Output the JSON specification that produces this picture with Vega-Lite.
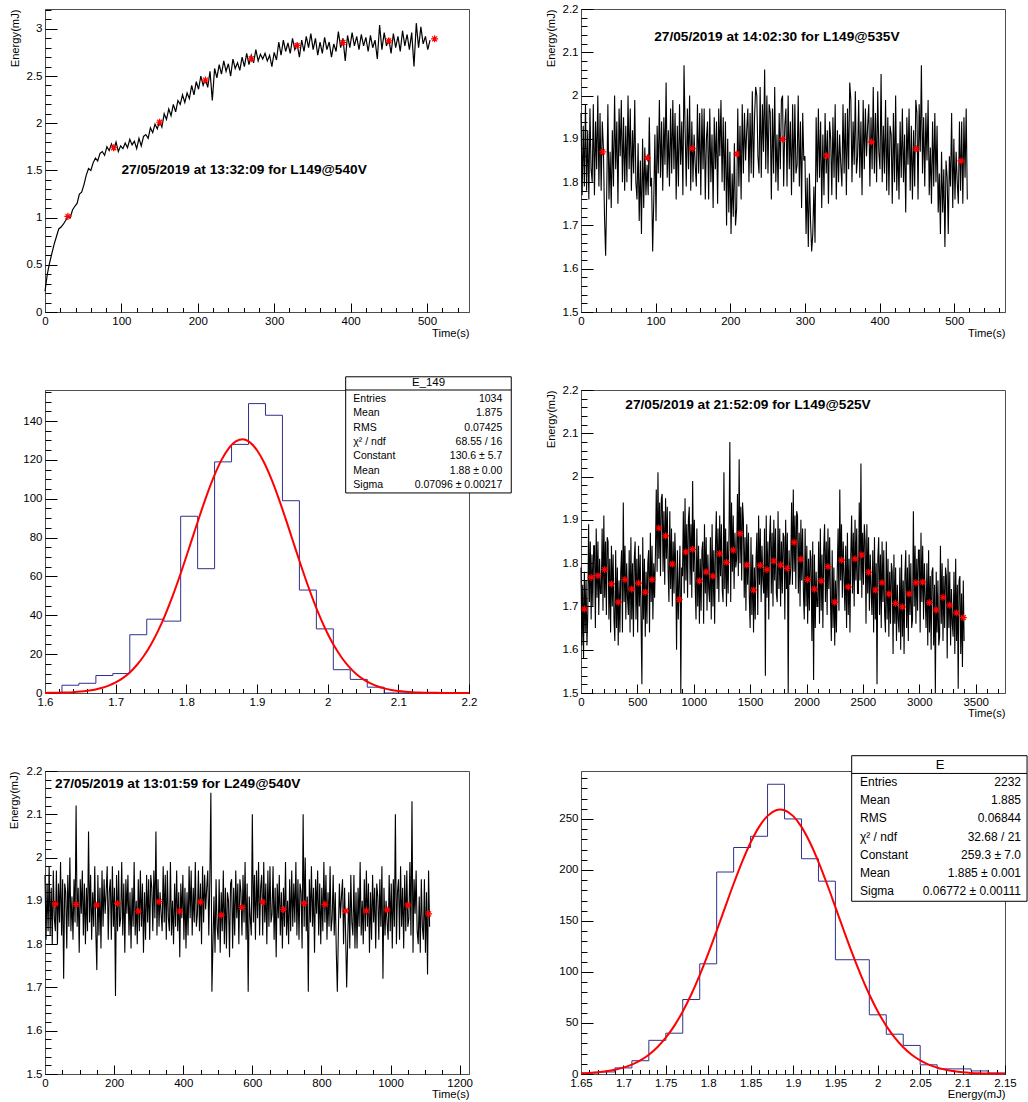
{
"$schema":"https://vega.github.io/schema/vega-lite/v6.json",
"background":"white",
"padding":{"left":7,"top":2,"right":0,"bottom":0},
"config":{
"view":{"stroke":"#4d4d4d","strokeWidth":1},
"font":"Liberation Sans",
"axis":{"labelFont":"Liberation Sans","labelFontSize":11.5,"labelColor":"#000","titleFont":"Liberation Sans","titleFontSize":11.2,"titleFontWeight":"normal","titleColor":"#000","domainColor":"#4d4d4d","domainWidth":1,"grid":false,"ticks":true,"tickColor":"#000","tickWidth":1,"labelFlush":false,"labelBound":false,"labelOverlap":false,"zindex":1,"labelExpr":"datum.value + ''"},
"text":{"font":"Liberation Sans"}
},
"datasets":{
"ts1":[{"t":0,"e":0.22},{"t":3,"e":0.4},{"t":6,"e":0.52},{"t":9,"e":0.62},{"t":12,"e":0.72},{"t":15,"e":0.8},{"t":18,"e":0.88},{"t":21,"e":0.9},{"t":24,"e":0.93},{"t":27,"e":0.97},{"t":30,"e":1.01},{"t":33,"e":1.0},{"t":36,"e":1.08},{"t":39,"e":1.12},{"t":42,"e":1.15},{"t":45,"e":1.25},{"t":48,"e":1.27},{"t":51,"e":1.35},{"t":54,"e":1.45},{"t":57,"e":1.52},{"t":60,"e":1.5},{"t":63,"e":1.58},{"t":66,"e":1.63},{"t":69,"e":1.6},{"t":72,"e":1.68},{"t":75,"e":1.7},{"t":78,"e":1.66},{"t":81,"e":1.75},{"t":84,"e":1.71},{"t":87,"e":1.78},{"t":90,"e":1.72},{"t":93,"e":1.8},{"t":96,"e":1.7},{"t":99,"e":1.76},{"t":102,"e":1.73},{"t":105,"e":1.79},{"t":108,"e":1.74},{"t":111,"e":1.83},{"t":114,"e":1.77},{"t":117,"e":1.81},{"t":120,"e":1.73},{"t":123,"e":1.84},{"t":126,"e":1.76},{"t":129,"e":1.86},{"t":132,"e":1.88},{"t":135,"e":1.84},{"t":138,"e":1.95},{"t":141,"e":1.9},{"t":144,"e":1.99},{"t":147,"e":1.94},{"t":150,"e":2.02},{"t":153,"e":1.96},{"t":156,"e":2.1},{"t":159,"e":2.04},{"t":162,"e":2.15},{"t":165,"e":2.08},{"t":168,"e":2.2},{"t":171,"e":2.12},{"t":174,"e":2.24},{"t":177,"e":2.2},{"t":180,"e":2.3},{"t":183,"e":2.22},{"t":186,"e":2.32},{"t":189,"e":2.26},{"t":192,"e":2.4},{"t":195,"e":2.3},{"t":198,"e":2.44},{"t":201,"e":2.36},{"t":204,"e":2.5},{"t":207,"e":2.4},{"t":210,"e":2.47},{"t":213,"e":2.38},{"t":216,"e":2.55},{"t":219,"e":2.24},{"t":222,"e":2.58},{"t":225,"e":2.48},{"t":228,"e":2.62},{"t":231,"e":2.52},{"t":234,"e":2.66},{"t":237,"e":2.55},{"t":240,"e":2.63},{"t":243,"e":2.5},{"t":246,"e":2.68},{"t":249,"e":2.58},{"t":252,"e":2.64},{"t":255,"e":2.56},{"t":258,"e":2.7},{"t":261,"e":2.6},{"t":264,"e":2.74},{"t":267,"e":2.62},{"t":270,"e":2.72},{"t":273,"e":2.64},{"t":276,"e":2.78},{"t":279,"e":2.66},{"t":282,"e":2.73},{"t":285,"e":2.68},{"t":288,"e":2.74},{"t":291,"e":2.66},{"t":294,"e":2.72},{"t":297,"e":2.6},{"t":300,"e":2.75},{"t":303,"e":2.67},{"t":306,"e":2.86},{"t":309,"e":2.72},{"t":312,"e":2.88},{"t":315,"e":2.76},{"t":318,"e":2.85},{"t":321,"e":2.74},{"t":324,"e":2.9},{"t":327,"e":2.78},{"t":330,"e":2.84},{"t":333,"e":2.7},{"t":336,"e":2.88},{"t":339,"e":2.76},{"t":342,"e":2.92},{"t":345,"e":2.8},{"t":348,"e":2.95},{"t":351,"e":2.78},{"t":354,"e":2.9},{"t":357,"e":2.72},{"t":360,"e":2.86},{"t":363,"e":2.74},{"t":366,"e":2.91},{"t":369,"e":2.78},{"t":372,"e":2.86},{"t":375,"e":2.7},{"t":378,"e":2.84},{"t":381,"e":2.76},{"t":384,"e":2.97},{"t":387,"e":2.8},{"t":390,"e":2.9},{"t":393,"e":2.66},{"t":396,"e":2.93},{"t":399,"e":2.8},{"t":402,"e":2.96},{"t":405,"e":2.82},{"t":408,"e":2.92},{"t":411,"e":2.78},{"t":414,"e":2.94},{"t":417,"e":2.82},{"t":420,"e":2.91},{"t":423,"e":2.76},{"t":426,"e":2.93},{"t":429,"e":2.8},{"t":432,"e":2.88},{"t":435,"e":2.68},{"t":438,"e":3.04},{"t":441,"e":2.78},{"t":444,"e":2.96},{"t":447,"e":2.82},{"t":450,"e":2.9},{"t":453,"e":2.74},{"t":456,"e":2.95},{"t":459,"e":2.8},{"t":462,"e":2.92},{"t":465,"e":2.76},{"t":468,"e":2.98},{"t":471,"e":2.82},{"t":474,"e":2.94},{"t":477,"e":2.78},{"t":480,"e":2.96},{"t":483,"e":2.6},{"t":486,"e":3.06},{"t":489,"e":2.8},{"t":492,"e":3.02},{"t":495,"e":2.84},{"t":498,"e":2.92},{"t":501,"e":2.78},{"t":504,"e":2.88}],
"mk1":[{"t":30,"e":1.013},{"t":90,"e":1.74},{"t":150,"e":2.01},{"t":210,"e":2.457},{"t":270,"e":2.683},{"t":330,"e":2.824},{"t":390,"e":2.855},{"t":450,"e":2.873},{"t":510,"e":2.894}],
"ts2":[{"t":0,"e":1.96},{"t":1.5,"e":1.77},{"t":3,"e":1.93},{"t":4.5,"e":1.79},{"t":6,"e":1.98},{"t":7.5,"e":1.78},{"t":9,"e":1.92},{"t":10.5,"e":1.76},{"t":12,"e":1.97},{"t":13.5,"e":1.83},{"t":15,"e":1.8},{"t":16.5,"e":1.98},{"t":18,"e":1.77},{"t":19.5,"e":1.94},{"t":21,"e":1.83},{"t":22.5,"e":2.0},{"t":24,"e":1.79},{"t":25.5,"e":1.96},{"t":27,"e":1.78},{"t":28.5,"e":1.94},{"t":30,"e":1.88},{"t":31.5,"e":1.72},{"t":33,"e":1.63},{"t":34.5,"e":1.78},{"t":36,"e":1.98},{"t":37.5,"e":1.76},{"t":39,"e":1.87},{"t":40.5,"e":1.74},{"t":42,"e":1.92},{"t":43.5,"e":1.79},{"t":45,"e":2.0},{"t":46.5,"e":1.83},{"t":48,"e":1.94},{"t":49.5,"e":1.75},{"t":51,"e":1.97},{"t":52.5,"e":1.86},{"t":54,"e":1.99},{"t":55.5,"e":1.8},{"t":57,"e":1.95},{"t":58.5,"e":1.78},{"t":60,"e":1.93},{"t":61.5,"e":1.8},{"t":63,"e":2.0},{"t":64.5,"e":1.83},{"t":66,"e":1.97},{"t":67.5,"e":1.78},{"t":69,"e":1.92},{"t":70.5,"e":1.82},{"t":72,"e":1.99},{"t":73.5,"e":1.8},{"t":75,"e":1.76},{"t":76.5,"e":1.89},{"t":78,"e":1.71},{"t":79.5,"e":1.85},{"t":81,"e":1.68},{"t":82.5,"e":1.9},{"t":84,"e":1.74},{"t":85.5,"e":1.88},{"t":87,"e":1.77},{"t":88.5,"e":1.84},{"t":90,"e":1.77},{"t":91.5,"e":1.95},{"t":93,"e":1.79},{"t":94.5,"e":1.81},{"t":96,"e":1.64},{"t":97.5,"e":1.76},{"t":99,"e":1.91},{"t":100.5,"e":1.71},{"t":102,"e":1.93},{"t":103.5,"e":1.82},{"t":105,"e":1.99},{"t":106.5,"e":1.81},{"t":108,"e":1.94},{"t":109.5,"e":1.78},{"t":111,"e":1.95},{"t":112.5,"e":1.84},{"t":114,"e":2.03},{"t":115.5,"e":1.81},{"t":117,"e":1.92},{"t":118.5,"e":1.79},{"t":120,"e":1.97},{"t":121.5,"e":1.82},{"t":123,"e":1.99},{"t":124.5,"e":1.83},{"t":126,"e":1.96},{"t":127.5,"e":1.76},{"t":129,"e":1.93},{"t":130.5,"e":1.79},{"t":132,"e":1.98},{"t":133.5,"e":1.84},{"t":135,"e":1.94},{"t":136.5,"e":1.77},{"t":138,"e":2.07},{"t":139.5,"e":1.92},{"t":141,"e":1.79},{"t":142.5,"e":1.97},{"t":144,"e":1.83},{"t":145.5,"e":2.0},{"t":147,"e":1.78},{"t":148.5,"e":1.94},{"t":150,"e":1.8},{"t":151.5,"e":1.91},{"t":153,"e":1.84},{"t":154.5,"e":1.79},{"t":156,"e":1.98},{"t":157.5,"e":1.82},{"t":159,"e":1.96},{"t":160.5,"e":1.77},{"t":162,"e":1.97},{"t":163.5,"e":1.83},{"t":165,"e":1.97},{"t":166.5,"e":1.76},{"t":168,"e":1.9},{"t":169.5,"e":1.94},{"t":171,"e":1.76},{"t":172.5,"e":1.97},{"t":174,"e":1.8},{"t":175.5,"e":1.91},{"t":177,"e":1.74},{"t":178.5,"e":1.95},{"t":180,"e":1.83},{"t":181.5,"e":1.94},{"t":183,"e":1.75},{"t":184.5,"e":1.97},{"t":186,"e":1.86},{"t":187.5,"e":1.99},{"t":189,"e":1.8},{"t":190.5,"e":1.95},{"t":192,"e":1.78},{"t":193.5,"e":1.94},{"t":195,"e":1.7},{"t":196.5,"e":1.9},{"t":198,"e":1.73},{"t":199.5,"e":1.87},{"t":201,"e":1.68},{"t":202.5,"e":1.82},{"t":204,"e":1.72},{"t":205.5,"e":1.89},{"t":207,"e":1.7},{"t":208.5,"e":1.74},{"t":210,"e":1.97},{"t":211.5,"e":1.79},{"t":213,"e":1.93},{"t":214.5,"e":1.76},{"t":216,"e":1.98},{"t":217.5,"e":1.82},{"t":219,"e":1.96},{"t":220.5,"e":1.85},{"t":222,"e":1.92},{"t":223.5,"e":1.97},{"t":225,"e":1.8},{"t":226.5,"e":1.96},{"t":228,"e":1.82},{"t":229.5,"e":2.01},{"t":231,"e":1.81},{"t":232.5,"e":1.95},{"t":234,"e":2.02},{"t":235.5,"e":2.0},{"t":237,"e":1.86},{"t":238.5,"e":1.82},{"t":240,"e":2.02},{"t":241.5,"e":1.81},{"t":243,"e":1.98},{"t":244.5,"e":1.87},{"t":246,"e":2.06},{"t":247.5,"e":1.83},{"t":249,"e":2.0},{"t":250.5,"e":1.82},{"t":252,"e":1.98},{"t":253.5,"e":1.96},{"t":255,"e":1.76},{"t":256.5,"e":1.97},{"t":258,"e":1.82},{"t":259.5,"e":2.02},{"t":261,"e":1.8},{"t":262.5,"e":1.91},{"t":264,"e":1.78},{"t":265.5,"e":1.96},{"t":267,"e":1.83},{"t":268.5,"e":1.99},{"t":270,"e":2.0},{"t":271.5,"e":1.79},{"t":273,"e":1.93},{"t":274.5,"e":1.97},{"t":276,"e":1.79},{"t":277.5,"e":2.0},{"t":279,"e":1.83},{"t":280.5,"e":1.94},{"t":282,"e":1.77},{"t":283.5,"e":1.98},{"t":285,"e":1.8},{"t":286.5,"e":1.98},{"t":288,"e":1.82},{"t":289.5,"e":1.84},{"t":291,"e":2.0},{"t":292.5,"e":1.79},{"t":294,"e":1.94},{"t":295.5,"e":1.74},{"t":297,"e":1.96},{"t":298.5,"e":1.85},{"t":300,"e":1.86},{"t":301.5,"e":1.68},{"t":303,"e":1.81},{"t":304.5,"e":1.65},{"t":306,"e":1.82},{"t":307.5,"e":1.71},{"t":309,"e":1.64},{"t":310.5,"e":1.68},{"t":312,"e":1.79},{"t":313.5,"e":1.66},{"t":315,"e":1.95},{"t":316.5,"e":1.8},{"t":318,"e":1.97},{"t":319.5,"e":1.81},{"t":321,"e":1.94},{"t":322.5,"e":1.74},{"t":324,"e":1.91},{"t":325.5,"e":1.77},{"t":327,"e":1.96},{"t":328.5,"e":1.82},{"t":330,"e":1.92},{"t":331.5,"e":1.75},{"t":333,"e":1.94},{"t":334.5,"e":1.9},{"t":336,"e":1.77},{"t":337.5,"e":1.95},{"t":339,"e":1.81},{"t":340.5,"e":1.98},{"t":342,"e":1.76},{"t":343.5,"e":1.92},{"t":345,"e":1.8},{"t":346.5,"e":1.91},{"t":348,"e":1.84},{"t":349.5,"e":1.79},{"t":351,"e":1.98},{"t":352.5,"e":1.82},{"t":354,"e":1.96},{"t":355.5,"e":1.77},{"t":357,"e":1.97},{"t":358.5,"e":1.83},{"t":360,"e":2.03},{"t":361.5,"e":1.99},{"t":363,"e":1.8},{"t":364.5,"e":1.94},{"t":366,"e":1.84},{"t":367.5,"e":2.01},{"t":369,"e":1.82},{"t":370.5,"e":1.86},{"t":372,"e":1.99},{"t":373.5,"e":1.81},{"t":375,"e":1.94},{"t":376.5,"e":1.77},{"t":378,"e":1.99},{"t":379.5,"e":1.83},{"t":381,"e":1.97},{"t":382.5,"e":1.86},{"t":384,"e":1.93},{"t":385.5,"e":1.98},{"t":387,"e":1.79},{"t":388.5,"e":1.95},{"t":390,"e":1.83},{"t":391.5,"e":2.02},{"t":393,"e":1.82},{"t":394.5,"e":1.96},{"t":396,"e":1.8},{"t":397.5,"e":2.01},{"t":399,"e":1.87},{"t":400.5,"e":1.83},{"t":402,"e":2.05},{"t":403.5,"e":1.8},{"t":405,"e":1.93},{"t":406.5,"e":1.82},{"t":408,"e":1.99},{"t":409.5,"e":1.78},{"t":411,"e":1.95},{"t":412.5,"e":1.77},{"t":414,"e":1.93},{"t":415.5,"e":1.91},{"t":417,"e":1.75},{"t":418.5,"e":1.96},{"t":420,"e":1.8},{"t":421.5,"e":2.0},{"t":423,"e":1.78},{"t":424.5,"e":1.89},{"t":426,"e":1.76},{"t":427.5,"e":1.94},{"t":429,"e":1.81},{"t":430.5,"e":1.97},{"t":432,"e":1.8},{"t":433.5,"e":1.91},{"t":435,"e":1.73},{"t":436.5,"e":1.95},{"t":438,"e":1.84},{"t":439.5,"e":1.97},{"t":441,"e":1.78},{"t":442.5,"e":1.93},{"t":444,"e":1.76},{"t":445.5,"e":1.92},{"t":447,"e":1.79},{"t":448.5,"e":1.99},{"t":450,"e":1.96},{"t":451.5,"e":1.76},{"t":453,"e":1.98},{"t":454.5,"e":1.87},{"t":456,"e":2.07},{"t":457.5,"e":1.82},{"t":459,"e":1.95},{"t":460.5,"e":1.79},{"t":462,"e":1.96},{"t":463.5,"e":1.85},{"t":465,"e":1.99},{"t":466.5,"e":1.77},{"t":468,"e":1.88},{"t":469.5,"e":1.75},{"t":471,"e":1.94},{"t":472.5,"e":1.79},{"t":474,"e":1.96},{"t":475.5,"e":1.8},{"t":477,"e":1.93},{"t":478.5,"e":1.73},{"t":480,"e":1.82},{"t":481.5,"e":1.68},{"t":483,"e":1.87},{"t":484.5,"e":1.73},{"t":486,"e":1.83},{"t":487.5,"e":1.65},{"t":489,"e":1.85},{"t":490.5,"e":1.81},{"t":492,"e":1.68},{"t":493.5,"e":1.86},{"t":495,"e":1.79},{"t":496.5,"e":1.96},{"t":498,"e":1.74},{"t":499.5,"e":1.9},{"t":501,"e":1.76},{"t":502.5,"e":1.87},{"t":504,"e":1.8},{"t":505.5,"e":1.75},{"t":507,"e":1.94},{"t":508.5,"e":1.78},{"t":510,"e":1.94},{"t":511.5,"e":1.75},{"t":513,"e":1.95},{"t":514.5,"e":1.81},{"t":516,"e":1.97},{"t":517.5,"e":1.76}],
"mk2":[{"t":29,"e":1.87},{"t":89,"e":1.856},{"t":149,"e":1.878},{"t":209,"e":1.865},{"t":270,"e":1.899},{"t":329,"e":1.861},{"t":389,"e":1.893},{"t":449,"e":1.877},{"t":509,"e":1.849}],
"h1":[{"x":1.6,"y":0},{"x":1.624,"y":4},{"x":1.648,"y":5},{"x":1.672,"y":9},{"x":1.696,"y":10},{"x":1.72,"y":30},{"x":1.744,"y":38},{"x":1.768,"y":37},{"x":1.792,"y":91},{"x":1.816,"y":64},{"x":1.84,"y":119},{"x":1.864,"y":128},{"x":1.888,"y":149},{"x":1.912,"y":143},{"x":1.936,"y":99},{"x":1.96,"y":53},{"x":1.984,"y":33},{"x":2.008,"y":12},{"x":2.032,"y":7},{"x":2.056,"y":3},{"x":2.08,"y":0},{"x":2.2,"y":0}],
"g1":[{"x":1.6,"y":0.057},{"x":1.61,"y":0.099},{"x":1.62,"y":0.167},{"x":1.63,"y":0.277},{"x":1.64,"y":0.449},{"x":1.65,"y":0.715},{"x":1.66,"y":1.116},{"x":1.67,"y":1.708},{"x":1.68,"y":2.56},{"x":1.69,"y":3.763},{"x":1.7,"y":5.423},{"x":1.71,"y":7.661},{"x":1.72,"y":10.61},{"x":1.73,"y":14.41},{"x":1.74,"y":19.17},{"x":1.75,"y":25.02},{"x":1.76,"y":32.0},{"x":1.77,"y":40.14},{"x":1.78,"y":49.35},{"x":1.79,"y":59.48},{"x":1.8,"y":70.27},{"x":1.81,"y":81.4},{"x":1.82,"y":92.44},{"x":1.83,"y":102.9},{"x":1.84,"y":112.29},{"x":1.85,"y":120.14},{"x":1.86,"y":126.0},{"x":1.87,"y":129.55},{"x":1.88,"y":130.59},{"x":1.89,"y":129.04},{"x":1.9,"y":125.0},{"x":1.91,"y":118.71},{"x":1.92,"y":110.52},{"x":1.93,"y":100.87},{"x":1.94,"y":90.26},{"x":1.95,"y":79.17},{"x":1.96,"y":68.07},{"x":1.97,"y":57.39},{"x":1.98,"y":47.43},{"x":1.99,"y":38.42},{"x":2.0,"y":30.52},{"x":2.01,"y":23.76},{"x":2.02,"y":18.14},{"x":2.03,"y":13.57},{"x":2.04,"y":9.957},{"x":2.05,"y":7.161},{"x":2.06,"y":5.049},{"x":2.07,"y":3.49},{"x":2.08,"y":2.364},{"x":2.09,"y":1.571},{"x":2.1,"y":1.023},{"x":2.11,"y":0.653},{"x":2.12,"y":0.409},{"x":2.13,"y":0.251},{"x":2.14,"y":0.151},{"x":2.15,"y":0.089},{"x":2.16,"y":0.051},{"x":2.17,"y":0.029},{"x":2.18,"y":0.016},{"x":2.19,"y":0.009},{"x":2.2,"y":0.005}],
"ts4":[{"t":0,"e":1.79},{"t":7.5,"e":1.61},{"t":15,"e":1.75},{"t":22.5,"e":1.58},{"t":30,"e":1.78},{"t":37.5,"e":1.64},{"t":45,"e":1.76},{"t":52.5,"e":1.61},{"t":60,"e":1.68},{"t":67.5,"e":1.89},{"t":75,"e":1.71},{"t":82.5,"e":1.85},{"t":90,"e":1.67},{"t":97.5,"e":1.82},{"t":105,"e":1.7},{"t":112.5,"e":1.84},{"t":120,"e":1.84},{"t":127.5,"e":1.65},{"t":135,"e":1.88},{"t":142.5,"e":1.72},{"t":150,"e":1.85},{"t":157.5,"e":1.68},{"t":165,"e":1.81},{"t":172.5,"e":1.73},{"t":180,"e":1.73},{"t":187.5,"e":1.88},{"t":195,"e":1.69},{"t":202.5,"e":1.91},{"t":210,"e":1.72},{"t":217.5,"e":1.85},{"t":225,"e":1.68},{"t":232.5,"e":1.86},{"t":240,"e":1.85},{"t":247.5,"e":1.67},{"t":255,"e":1.81},{"t":262.5,"e":1.64},{"t":270,"e":1.84},{"t":277.5,"e":1.7},{"t":285,"e":1.82},{"t":292.5,"e":1.67},{"t":300,"e":1.62},{"t":307.5,"e":1.83},{"t":315,"e":1.65},{"t":322.5,"e":1.79},{"t":330,"e":1.61},{"t":337.5,"e":1.76},{"t":345,"e":1.64},{"t":352.5,"e":1.78},{"t":360,"e":1.83},{"t":367.5,"e":1.64},{"t":375,"e":1.94},{"t":382.5,"e":1.71},{"t":390,"e":1.84},{"t":397.5,"e":1.67},{"t":405,"e":1.8},{"t":412.5,"e":1.72},{"t":420,"e":1.68},{"t":427.5,"e":1.83},{"t":435,"e":1.64},{"t":442.5,"e":1.86},{"t":450,"e":1.67},{"t":457.5,"e":1.8},{"t":465,"e":1.63},{"t":472.5,"e":1.81},{"t":480,"e":1.85},{"t":487.5,"e":1.67},{"t":495,"e":1.81},{"t":502.5,"e":1.64},{"t":510,"e":1.84},{"t":517.5,"e":1.7},{"t":525,"e":1.82},{"t":532.5,"e":1.67},{"t":540,"e":1.52},{"t":547.5,"e":1.86},{"t":555,"e":1.67},{"t":562.5,"e":1.81},{"t":570,"e":1.63},{"t":577.5,"e":1.78},{"t":585,"e":1.66},{"t":592.5,"e":1.8},{"t":600,"e":1.83},{"t":607.5,"e":1.64},{"t":615,"e":1.87},{"t":622.5,"e":1.71},{"t":630,"e":1.84},{"t":637.5,"e":1.67},{"t":645,"e":1.8},{"t":652.5,"e":1.72},{"t":660,"e":1.82},{"t":667.5,"e":1.97},{"t":675,"e":1.78},{"t":682.5,"e":2.01},{"t":690,"e":1.81},{"t":697.5,"e":1.94},{"t":705,"e":1.77},{"t":712.5,"e":1.95},{"t":720,"e":1.96},{"t":727.5,"e":1.78},{"t":735,"e":1.92},{"t":742.5,"e":1.75},{"t":750,"e":1.95},{"t":757.5,"e":1.81},{"t":765,"e":1.93},{"t":772.5,"e":1.78},{"t":780,"e":1.71},{"t":787.5,"e":1.92},{"t":795,"e":1.74},{"t":802.5,"e":1.88},{"t":810,"e":1.7},{"t":817.5,"e":1.85},{"t":825,"e":1.73},{"t":832.5,"e":1.87},{"t":840,"e":1.79},{"t":847.5,"e":1.6},{"t":855,"e":1.83},{"t":862.5,"e":1.67},{"t":870,"e":1.76},{"t":877.5,"e":1.84},{"t":885,"e":1.5},{"t":892.5,"e":1.79},{"t":900,"e":1.77},{"t":907.5,"e":1.92},{"t":915,"e":1.73},{"t":922.5,"e":1.95},{"t":930,"e":1.76},{"t":937.5,"e":1.89},{"t":945,"e":1.72},{"t":952.5,"e":1.9},{"t":960,"e":1.93},{"t":967.5,"e":1.75},{"t":975,"e":1.89},{"t":982.5,"e":1.72},{"t":990,"e":1.99},{"t":997.5,"e":1.78},{"t":1005,"e":1.9},{"t":1012.5,"e":1.75},{"t":1020,"e":1.67},{"t":1027.5,"e":1.88},{"t":1035,"e":1.7},{"t":1042.5,"e":1.84},{"t":1050,"e":1.66},{"t":1057.5,"e":1.81},{"t":1065,"e":1.69},{"t":1072.5,"e":1.83},{"t":1080,"e":1.85},{"t":1087.5,"e":1.66},{"t":1095,"e":1.89},{"t":1102.5,"e":1.73},{"t":1110,"e":1.86},{"t":1117.5,"e":1.69},{"t":1125,"e":1.82},{"t":1132.5,"e":1.74},{"t":1140,"e":1.71},{"t":1147.5,"e":1.86},{"t":1155,"e":1.67},{"t":1162.5,"e":1.89},{"t":1170,"e":1.7},{"t":1177.5,"e":1.83},{"t":1185,"e":1.66},{"t":1192.5,"e":1.84},{"t":1200,"e":1.92},{"t":1207.5,"e":1.74},{"t":1215,"e":1.88},{"t":1222.5,"e":1.71},{"t":1230,"e":1.91},{"t":1237.5,"e":1.77},{"t":1245,"e":1.89},{"t":1252.5,"e":1.74},{"t":1260,"e":1.71},{"t":1267.5,"e":2.01},{"t":1275,"e":1.74},{"t":1282.5,"e":1.88},{"t":1290,"e":1.7},{"t":1297.5,"e":1.85},{"t":1305,"e":1.73},{"t":1312.5,"e":1.87},{"t":1320,"e":2.08},{"t":1327.5,"e":1.71},{"t":1335,"e":1.94},{"t":1342.5,"e":1.78},{"t":1350,"e":1.91},{"t":1357.5,"e":1.74},{"t":1365,"e":1.87},{"t":1372.5,"e":1.79},{"t":1380,"e":1.81},{"t":1387.5,"e":1.96},{"t":1395,"e":1.77},{"t":1402.5,"e":2.04},{"t":1410,"e":1.8},{"t":1417.5,"e":1.93},{"t":1425,"e":1.76},{"t":1432.5,"e":1.94},{"t":1440,"e":1.9},{"t":1447.5,"e":1.72},{"t":1455,"e":1.86},{"t":1462.5,"e":1.69},{"t":1470,"e":1.89},{"t":1477.5,"e":1.75},{"t":1485,"e":1.87},{"t":1492.5,"e":1.72},{"t":1500,"e":1.65},{"t":1507.5,"e":1.86},{"t":1515,"e":1.68},{"t":1522.5,"e":1.82},{"t":1530,"e":1.64},{"t":1537.5,"e":1.79},{"t":1545,"e":1.67},{"t":1552.5,"e":1.81},{"t":1560,"e":1.87},{"t":1567.5,"e":1.68},{"t":1575,"e":1.91},{"t":1582.5,"e":1.75},{"t":1590,"e":1.88},{"t":1597.5,"e":1.71},{"t":1605,"e":1.84},{"t":1612.5,"e":1.76},{"t":1620,"e":1.73},{"t":1627.5,"e":1.88},{"t":1635,"e":1.54},{"t":1642.5,"e":1.91},{"t":1650,"e":1.72},{"t":1657.5,"e":1.85},{"t":1665,"e":1.67},{"t":1672.5,"e":1.86},{"t":1680,"e":1.91},{"t":1687.5,"e":1.73},{"t":1695,"e":1.87},{"t":1702.5,"e":1.7},{"t":1710,"e":1.9},{"t":1717.5,"e":1.76},{"t":1725,"e":1.88},{"t":1732.5,"e":1.73},{"t":1740,"e":1.71},{"t":1747.5,"e":1.92},{"t":1755,"e":1.74},{"t":1762.5,"e":1.88},{"t":1770,"e":1.7},{"t":1777.5,"e":1.85},{"t":1785,"e":1.73},{"t":1792.5,"e":1.87},{"t":1800,"e":1.86},{"t":1807.5,"e":1.67},{"t":1815,"e":1.9},{"t":1822.5,"e":1.74},{"t":1830,"e":1.87},{"t":1837.5,"e":1.5},{"t":1845,"e":1.83},{"t":1852.5,"e":1.75},{"t":1860,"e":1.79},{"t":1867.5,"e":1.94},{"t":1875,"e":1.75},{"t":1882.5,"e":1.97},{"t":1890,"e":1.78},{"t":1897.5,"e":1.91},{"t":1905,"e":1.74},{"t":1912.5,"e":1.92},{"t":1920,"e":1.91},{"t":1927.5,"e":1.73},{"t":1935,"e":1.87},{"t":1942.5,"e":1.7},{"t":1950,"e":1.9},{"t":1957.5,"e":1.76},{"t":1965,"e":1.88},{"t":1972.5,"e":1.73},{"t":1980,"e":1.67},{"t":1987.5,"e":1.88},{"t":1995,"e":1.7},{"t":2002.5,"e":1.84},{"t":2010,"e":1.66},{"t":2017.5,"e":1.81},{"t":2025,"e":1.69},{"t":2032.5,"e":1.83},{"t":2040,"e":1.81},{"t":2047.5,"e":1.62},{"t":2055,"e":1.85},{"t":2062.5,"e":1.53},{"t":2070,"e":1.82},{"t":2077.5,"e":1.65},{"t":2085,"e":1.78},{"t":2092.5,"e":1.7},{"t":2100,"e":1.7},{"t":2107.5,"e":1.85},{"t":2115,"e":1.66},{"t":2122.5,"e":1.88},{"t":2130,"e":1.69},{"t":2137.5,"e":1.82},{"t":2145,"e":1.65},{"t":2152.5,"e":1.83},{"t":2160,"e":1.89},{"t":2167.5,"e":1.71},{"t":2175,"e":1.85},{"t":2182.5,"e":1.68},{"t":2190,"e":1.88},{"t":2197.5,"e":1.74},{"t":2205,"e":1.86},{"t":2212.5,"e":1.71},{"t":2220,"e":1.62},{"t":2227.5,"e":1.83},{"t":2235,"e":1.65},{"t":2242.5,"e":1.79},{"t":2250,"e":1.61},{"t":2257.5,"e":1.76},{"t":2265,"e":1.64},{"t":2272.5,"e":1.78},{"t":2280,"e":1.88},{"t":2287.5,"e":1.69},{"t":2295,"e":1.97},{"t":2302.5,"e":1.76},{"t":2310,"e":1.89},{"t":2317.5,"e":1.72},{"t":2325,"e":1.85},{"t":2332.5,"e":1.77},{"t":2340,"e":1.69},{"t":2347.5,"e":1.84},{"t":2355,"e":1.65},{"t":2362.5,"e":1.87},{"t":2370,"e":1.68},{"t":2377.5,"e":1.81},{"t":2385,"e":1.64},{"t":2392.5,"e":1.82},{"t":2400,"e":1.91},{"t":2407.5,"e":1.73},{"t":2415,"e":1.87},{"t":2422.5,"e":1.7},{"t":2430,"e":1.9},{"t":2437.5,"e":1.76},{"t":2445,"e":1.88},{"t":2452.5,"e":1.73},{"t":2460,"e":1.73},{"t":2467.5,"e":1.94},{"t":2475,"e":1.76},{"t":2482.5,"e":2.03},{"t":2490,"e":1.72},{"t":2497.5,"e":1.87},{"t":2505,"e":1.75},{"t":2512.5,"e":1.89},{"t":2520,"e":1.85},{"t":2527.5,"e":1.66},{"t":2535,"e":1.89},{"t":2542.5,"e":1.73},{"t":2550,"e":1.86},{"t":2557.5,"e":1.69},{"t":2565,"e":1.82},{"t":2572.5,"e":1.74},{"t":2580,"e":1.68},{"t":2587.5,"e":1.83},{"t":2595,"e":1.64},{"t":2602.5,"e":1.86},{"t":2610,"e":1.67},{"t":2617.5,"e":1.8},{"t":2625,"e":1.52},{"t":2632.5,"e":1.81},{"t":2640,"e":1.86},{"t":2647.5,"e":1.68},{"t":2655,"e":1.82},{"t":2662.5,"e":1.65},{"t":2670,"e":1.85},{"t":2677.5,"e":1.71},{"t":2685,"e":1.83},{"t":2692.5,"e":1.68},{"t":2700,"e":1.64},{"t":2707.5,"e":1.85},{"t":2715,"e":1.67},{"t":2722.5,"e":1.81},{"t":2730,"e":1.63},{"t":2737.5,"e":1.78},{"t":2745,"e":1.66},{"t":2752.5,"e":1.8},{"t":2760,"e":1.78},{"t":2767.5,"e":1.59},{"t":2775,"e":1.82},{"t":2782.5,"e":1.66},{"t":2790,"e":1.79},{"t":2797.5,"e":1.62},{"t":2805,"e":1.75},{"t":2812.5,"e":1.67},{"t":2820,"e":1.64},{"t":2827.5,"e":1.79},{"t":2835,"e":1.6},{"t":2842.5,"e":1.82},{"t":2850,"e":1.63},{"t":2857.5,"e":1.76},{"t":2865,"e":1.59},{"t":2872.5,"e":1.77},{"t":2880,"e":1.83},{"t":2887.5,"e":1.65},{"t":2895,"e":1.79},{"t":2902.5,"e":1.62},{"t":2910,"e":1.82},{"t":2917.5,"e":1.68},{"t":2925,"e":1.8},{"t":2932.5,"e":1.65},{"t":2940,"e":1.67},{"t":2947.5,"e":1.92},{"t":2955,"e":1.7},{"t":2962.5,"e":1.84},{"t":2970,"e":1.66},{"t":2977.5,"e":1.81},{"t":2985,"e":1.69},{"t":2992.5,"e":1.83},{"t":3000,"e":1.83},{"t":3007.5,"e":1.64},{"t":3015,"e":1.87},{"t":3022.5,"e":1.71},{"t":3030,"e":1.84},{"t":3037.5,"e":1.67},{"t":3045,"e":1.8},{"t":3052.5,"e":1.72},{"t":3060,"e":1.65},{"t":3067.5,"e":1.8},{"t":3075,"e":1.61},{"t":3082.5,"e":1.83},{"t":3090,"e":1.64},{"t":3097.5,"e":1.77},{"t":3105,"e":1.6},{"t":3112.5,"e":1.78},{"t":3120,"e":1.79},{"t":3127.5,"e":1.61},{"t":3135,"e":1.75},{"t":3142.5,"e":1.5},{"t":3150,"e":1.78},{"t":3157.5,"e":1.64},{"t":3165,"e":1.76},{"t":3172.5,"e":1.61},{"t":3180,"e":1.63},{"t":3187.5,"e":1.84},{"t":3195,"e":1.66},{"t":3202.5,"e":1.8},{"t":3210,"e":1.62},{"t":3217.5,"e":1.77},{"t":3225,"e":1.65},{"t":3232.5,"e":1.79},{"t":3240,"e":1.77},{"t":3247.5,"e":1.58},{"t":3255,"e":1.81},{"t":3262.5,"e":1.65},{"t":3270,"e":1.78},{"t":3277.5,"e":1.61},{"t":3285,"e":1.74},{"t":3292.5,"e":1.66},{"t":3300,"e":1.63},{"t":3307.5,"e":1.78},{"t":3315,"e":1.59},{"t":3322.5,"e":1.81},{"t":3330,"e":1.62},{"t":3337.5,"e":1.75},{"t":3345,"e":1.51},{"t":3352.5,"e":1.76},{"t":3360,"e":1.77},{"t":3367.5,"e":1.59},{"t":3375,"e":1.73},{"t":3382.5,"e":1.56},{"t":3390,"e":1.76},{"t":3397.5,"e":1.62}],
"mk4":[{"t":30,"e":1.694},{"t":90,"e":1.767},{"t":150,"e":1.771},{"t":210,"e":1.785},{"t":270,"e":1.752},{"t":330,"e":1.71},{"t":390,"e":1.762},{"t":450,"e":1.74},{"t":510,"e":1.754},{"t":570,"e":1.733},{"t":630,"e":1.762},{"t":690,"e":1.881},{"t":750,"e":1.863},{"t":810,"e":1.798},{"t":870,"e":1.716},{"t":930,"e":1.826},{"t":990,"e":1.832},{"t":1050,"e":1.759},{"t":1110,"e":1.78},{"t":1170,"e":1.77},{"t":1230,"e":1.822},{"t":1290,"e":1.802},{"t":1350,"e":1.83},{"t":1410,"e":1.868},{"t":1470,"e":1.796},{"t":1530,"e":1.738},{"t":1590,"e":1.795},{"t":1650,"e":1.785},{"t":1710,"e":1.805},{"t":1770,"e":1.796},{"t":1830,"e":1.788},{"t":1890,"e":1.848},{"t":1950,"e":1.809},{"t":2010,"e":1.762},{"t":2070,"e":1.74},{"t":2130,"e":1.759},{"t":2190,"e":1.792},{"t":2250,"e":1.71},{"t":2310,"e":1.807},{"t":2370,"e":1.745},{"t":2430,"e":1.81},{"t":2490,"e":1.819},{"t":2550,"e":1.779},{"t":2610,"e":1.738},{"t":2670,"e":1.755},{"t":2730,"e":1.729},{"t":2790,"e":1.707},{"t":2850,"e":1.699},{"t":2910,"e":1.729},{"t":2970,"e":1.755},{"t":3030,"e":1.756},{"t":3090,"e":1.709},{"t":3150,"e":1.692},{"t":3210,"e":1.721},{"t":3270,"e":1.703},{"t":3330,"e":1.685},{"t":3390,"e":1.674}],
"ts5":[{"t":0,"e":1.96},{"t":3,"e":1.81},{"t":6,"e":1.94},{"t":9,"e":1.83},{"t":12,"e":1.98},{"t":15,"e":1.82},{"t":18,"e":1.93},{"t":21,"e":1.8},{"t":24,"e":1.97},{"t":27,"e":1.86},{"t":30,"e":1.83},{"t":33,"e":1.97},{"t":36,"e":1.8},{"t":39,"e":1.94},{"t":42,"e":1.85},{"t":45,"e":1.99},{"t":48,"e":1.82},{"t":51,"e":1.95},{"t":54,"e":1.72},{"t":57,"e":1.94},{"t":60,"e":1.92},{"t":63,"e":1.79},{"t":66,"e":1.96},{"t":69,"e":1.84},{"t":72,"e":2.0},{"t":75,"e":1.83},{"t":78,"e":1.91},{"t":81,"e":1.81},{"t":84,"e":1.95},{"t":87,"e":1.85},{"t":90,"e":2.12},{"t":93,"e":1.84},{"t":96,"e":1.93},{"t":99,"e":1.78},{"t":102,"e":1.95},{"t":105,"e":1.87},{"t":108,"e":1.97},{"t":111,"e":1.82},{"t":114,"e":1.94},{"t":117,"e":1.8},{"t":120,"e":1.93},{"t":123,"e":1.83},{"t":126,"e":2.06},{"t":129,"e":1.85},{"t":132,"e":1.96},{"t":135,"e":1.81},{"t":138,"e":1.92},{"t":141,"e":1.84},{"t":144,"e":1.98},{"t":147,"e":1.83},{"t":150,"e":1.74},{"t":153,"e":1.96},{"t":156,"e":1.82},{"t":159,"e":1.93},{"t":162,"e":1.79},{"t":165,"e":1.97},{"t":168,"e":1.84},{"t":171,"e":1.95},{"t":174,"e":1.87},{"t":177,"e":1.92},{"t":180,"e":1.98},{"t":183,"e":1.81},{"t":186,"e":1.92},{"t":189,"e":1.95},{"t":192,"e":1.81},{"t":195,"e":1.98},{"t":198,"e":1.84},{"t":201,"e":1.93},{"t":204,"e":1.68},{"t":207,"e":1.96},{"t":210,"e":1.83},{"t":213,"e":1.97},{"t":216,"e":1.84},{"t":219,"e":1.86},{"t":222,"e":1.99},{"t":225,"e":1.82},{"t":228,"e":1.94},{"t":231,"e":1.78},{"t":234,"e":1.95},{"t":237,"e":1.87},{"t":240,"e":1.96},{"t":243,"e":1.82},{"t":246,"e":1.92},{"t":249,"e":1.79},{"t":252,"e":1.93},{"t":255,"e":1.84},{"t":258,"e":1.99},{"t":261,"e":1.82},{"t":264,"e":1.9},{"t":267,"e":1.8},{"t":270,"e":1.95},{"t":273,"e":1.83},{"t":276,"e":1.97},{"t":279,"e":1.84},{"t":282,"e":1.94},{"t":285,"e":1.78},{"t":288,"e":1.92},{"t":291,"e":1.81},{"t":294,"e":1.96},{"t":297,"e":1.85},{"t":300,"e":1.95},{"t":303,"e":1.81},{"t":306,"e":1.96},{"t":309,"e":1.93},{"t":312,"e":1.83},{"t":315,"e":1.97},{"t":318,"e":1.86},{"t":321,"e":2.06},{"t":324,"e":1.82},{"t":327,"e":1.95},{"t":330,"e":1.84},{"t":333,"e":1.92},{"t":336,"e":1.87},{"t":339,"e":1.83},{"t":342,"e":1.98},{"t":345,"e":1.85},{"t":348,"e":1.96},{"t":351,"e":1.81},{"t":354,"e":1.97},{"t":357,"e":1.86},{"t":360,"e":1.83},{"t":363,"e":1.99},{"t":366,"e":1.82},{"t":369,"e":1.9},{"t":372,"e":1.8},{"t":375,"e":1.94},{"t":378,"e":1.84},{"t":381,"e":1.97},{"t":384,"e":1.83},{"t":387,"e":1.92},{"t":390,"e":1.77},{"t":393,"e":1.94},{"t":396,"e":1.86},{"t":399,"e":1.96},{"t":402,"e":1.81},{"t":405,"e":1.93},{"t":408,"e":1.79},{"t":411,"e":1.92},{"t":414,"e":1.82},{"t":417,"e":1.98},{"t":420,"e":1.86},{"t":423,"e":1.97},{"t":426,"e":1.82},{"t":429,"e":1.93},{"t":432,"e":1.85},{"t":435,"e":1.99},{"t":438,"e":1.84},{"t":441,"e":1.87},{"t":444,"e":1.97},{"t":447,"e":1.83},{"t":450,"e":1.94},{"t":453,"e":1.8},{"t":456,"e":1.98},{"t":459,"e":1.85},{"t":462,"e":1.96},{"t":465,"e":1.88},{"t":468,"e":1.93},{"t":471,"e":1.97},{"t":474,"e":1.82},{"t":477,"e":1.95},{"t":480,"e":2.15},{"t":483,"e":1.69},{"t":486,"e":1.8},{"t":489,"e":1.91},{"t":492,"e":1.78},{"t":495,"e":1.95},{"t":498,"e":1.84},{"t":501,"e":1.81},{"t":504,"e":1.95},{"t":507,"e":1.78},{"t":510,"e":1.92},{"t":513,"e":1.83},{"t":516,"e":1.97},{"t":519,"e":1.8},{"t":522,"e":1.93},{"t":525,"e":1.79},{"t":528,"e":1.92},{"t":531,"e":1.9},{"t":534,"e":1.77},{"t":537,"e":1.94},{"t":540,"e":1.95},{"t":543,"e":1.79},{"t":546,"e":1.93},{"t":549,"e":1.82},{"t":552,"e":1.97},{"t":555,"e":1.86},{"t":558,"e":1.94},{"t":561,"e":1.8},{"t":564,"e":1.95},{"t":567,"e":1.92},{"t":570,"e":1.82},{"t":573,"e":1.96},{"t":576,"e":1.85},{"t":579,"e":1.99},{"t":582,"e":1.81},{"t":585,"e":1.94},{"t":588,"e":1.69},{"t":591,"e":1.91},{"t":594,"e":1.86},{"t":597,"e":1.82},{"t":600,"e":2.1},{"t":603,"e":1.85},{"t":606,"e":1.96},{"t":609,"e":1.81},{"t":612,"e":1.97},{"t":615,"e":1.86},{"t":618,"e":1.99},{"t":621,"e":1.82},{"t":624,"e":1.93},{"t":627,"e":1.96},{"t":630,"e":1.82},{"t":633,"e":1.99},{"t":636,"e":1.85},{"t":639,"e":1.94},{"t":642,"e":1.8},{"t":645,"e":1.97},{"t":648,"e":1.84},{"t":651,"e":1.98},{"t":654,"e":1.85},{"t":657,"e":1.87},{"t":660,"e":1.98},{"t":663,"e":1.81},{"t":666,"e":1.93},{"t":669,"e":1.77},{"t":672,"e":1.94},{"t":675,"e":1.86},{"t":678,"e":1.96},{"t":681,"e":1.82},{"t":684,"e":1.92},{"t":687,"e":1.79},{"t":690,"e":1.93},{"t":693,"e":1.84},{"t":696,"e":1.99},{"t":699,"e":1.82},{"t":702,"e":1.9},{"t":705,"e":1.8},{"t":708,"e":1.95},{"t":711,"e":1.83},{"t":714,"e":1.97},{"t":717,"e":1.84},{"t":720,"e":1.94},{"t":723,"e":1.85},{"t":726,"e":1.99},{"t":729,"e":1.82},{"t":732,"e":1.95},{"t":735,"e":1.81},{"t":738,"e":1.94},{"t":741,"e":1.92},{"t":744,"e":1.79},{"t":747,"e":2.1},{"t":750,"e":1.84},{"t":753,"e":2.0},{"t":756,"e":1.83},{"t":759,"e":1.91},{"t":762,"e":1.69},{"t":765,"e":1.95},{"t":768,"e":1.85},{"t":771,"e":1.98},{"t":774,"e":1.84},{"t":777,"e":1.93},{"t":780,"e":1.78},{"t":783,"e":1.95},{"t":786,"e":1.87},{"t":789,"e":1.97},{"t":792,"e":1.82},{"t":795,"e":1.94},{"t":798,"e":1.8},{"t":801,"e":1.93},{"t":804,"e":1.83},{"t":807,"e":1.99},{"t":810,"e":1.85},{"t":813,"e":1.96},{"t":816,"e":1.81},{"t":819,"e":1.92},{"t":822,"e":1.84},{"t":825,"e":1.98},{"t":828,"e":1.83},{"t":831,"e":1.86},{"t":834,"e":1.96},{"t":837,"e":1.82},{"t":840,"e":1.92},{"t":843,"e":1.78},{"t":846,"e":1.69},{"t":849,"e":1.83},{"t":852,"e":1.94},{"t":855,"e":1.86},{"t":858,"e":1.91},{"t":861,"e":1.95},{"t":864,"e":1.8},{"t":867,"e":1.93},{"t":870,"e":1.82},{"t":873,"e":1.7},{"t":876,"e":1.81},{"t":879,"e":1.92},{"t":882,"e":1.79},{"t":885,"e":1.96},{"t":888,"e":1.85},{"t":891,"e":1.82},{"t":894,"e":1.96},{"t":897,"e":1.79},{"t":900,"e":1.92},{"t":903,"e":1.79},{"t":906,"e":1.93},{"t":909,"e":1.84},{"t":912,"e":1.99},{"t":915,"e":1.82},{"t":918,"e":1.9},{"t":921,"e":1.8},{"t":924,"e":1.95},{"t":927,"e":1.83},{"t":930,"e":1.97},{"t":933,"e":1.84},{"t":936,"e":1.94},{"t":939,"e":1.78},{"t":942,"e":1.92},{"t":945,"e":1.81},{"t":948,"e":1.96},{"t":951,"e":1.85},{"t":954,"e":1.93},{"t":957,"e":1.79},{"t":960,"e":1.94},{"t":963,"e":1.91},{"t":966,"e":1.81},{"t":969,"e":1.95},{"t":972,"e":1.84},{"t":975,"e":1.98},{"t":978,"e":1.72},{"t":981,"e":1.93},{"t":984,"e":1.82},{"t":987,"e":1.9},{"t":990,"e":1.85},{"t":993,"e":1.81},{"t":996,"e":1.96},{"t":999,"e":1.83},{"t":1002,"e":1.94},{"t":1005,"e":1.79},{"t":1008,"e":1.95},{"t":1011,"e":1.84},{"t":1014,"e":2.1},{"t":1017,"e":1.8},{"t":1020,"e":1.92},{"t":1023,"e":1.95},{"t":1026,"e":1.81},{"t":1029,"e":1.98},{"t":1032,"e":1.84},{"t":1035,"e":1.93},{"t":1038,"e":1.79},{"t":1041,"e":1.96},{"t":1044,"e":1.83},{"t":1047,"e":1.97},{"t":1050,"e":1.84},{"t":1053,"e":1.86},{"t":1056,"e":1.99},{"t":1059,"e":1.82},{"t":1062,"e":2.13},{"t":1065,"e":1.78},{"t":1068,"e":1.95},{"t":1071,"e":1.87},{"t":1074,"e":1.97},{"t":1077,"e":1.83},{"t":1080,"e":1.8},{"t":1083,"e":1.91},{"t":1086,"e":1.78},{"t":1089,"e":1.95},{"t":1092,"e":1.84},{"t":1095,"e":1.81},{"t":1098,"e":1.95},{"t":1101,"e":1.78},{"t":1104,"e":1.92},{"t":1107,"e":1.73},{"t":1110,"e":1.97},{"t":1113,"e":1.84}],
"mk5":[{"t":30,"e":1.893},{"t":90,"e":1.892},{"t":150,"e":1.89},{"t":210,"e":1.894},{"t":270,"e":1.876},{"t":330,"e":1.898},{"t":390,"e":1.876},{"t":450,"e":1.897},{"t":510,"e":1.867},{"t":570,"e":1.885},{"t":630,"e":1.897},{"t":690,"e":1.88},{"t":750,"e":1.894},{"t":810,"e":1.892},{"t":870,"e":1.877},{"t":930,"e":1.877},{"t":990,"e":1.879},{"t":1050,"e":1.89},{"t":1110,"e":1.87}],
"h2":[{"x":1.65,"y":1},{"x":1.67,"y":2},{"x":1.69,"y":6},{"x":1.71,"y":13},{"x":1.73,"y":33},{"x":1.75,"y":40},{"x":1.77,"y":73},{"x":1.79,"y":108},{"x":1.81,"y":198},{"x":1.83,"y":222},{"x":1.85,"y":233},{"x":1.87,"y":284},{"x":1.89,"y":250},{"x":1.91,"y":211},{"x":1.93,"y":189},{"x":1.95,"y":112},{"x":1.97,"y":112},{"x":1.99,"y":58},{"x":2.01,"y":39},{"x":2.03,"y":28},{"x":2.05,"y":9},{"x":2.07,"y":5},{"x":2.09,"y":5},{"x":2.11,"y":3},{"x":2.13,"y":1},{"x":2.15,"y":0}],
"g2":[{"x":1.65,"y":0.629},{"x":1.66,"y":1.039},{"x":1.67,"y":1.679},{"x":1.68,"y":2.655},{"x":1.69,"y":4.107},{"x":1.7,"y":6.212},{"x":1.71,"y":9.199},{"x":1.72,"y":13.33},{"x":1.73,"y":18.89},{"x":1.74,"y":26.19},{"x":1.75,"y":35.56},{"x":1.76,"y":47.21},{"x":1.77,"y":61.32},{"x":1.78,"y":77.95},{"x":1.79,"y":96.93},{"x":1.8,"y":117.95},{"x":1.81,"y":140.42},{"x":1.82,"y":163.59},{"x":1.83,"y":186.46},{"x":1.84,"y":207.92},{"x":1.85,"y":226.88},{"x":1.86,"y":242.22},{"x":1.87,"y":253.02},{"x":1.88,"y":258.59},{"x":1.885,"y":259.3},{"x":1.89,"y":258.59},{"x":1.9,"y":253.02},{"x":1.91,"y":242.22},{"x":1.92,"y":226.88},{"x":1.93,"y":207.92},{"x":1.94,"y":186.46},{"x":1.95,"y":163.59},{"x":1.96,"y":140.42},{"x":1.97,"y":117.95},{"x":1.98,"y":96.93},{"x":1.99,"y":77.95},{"x":2.0,"y":61.32},{"x":2.01,"y":47.21},{"x":2.02,"y":35.56},{"x":2.03,"y":26.19},{"x":2.04,"y":18.89},{"x":2.05,"y":13.33},{"x":2.06,"y":9.199},{"x":2.07,"y":6.212},{"x":2.08,"y":4.107},{"x":2.09,"y":2.655},{"x":2.1,"y":1.679},{"x":2.11,"y":1.039},{"x":2.12,"y":0.629},{"x":2.13,"y":0.373},{"x":2.14,"y":0.216},{"x":2.15,"y":0.123}]
},
"columns":2,
"spacing":{"row":78,"column":112},
"bounds":"flush",
"concat":[
{"width":424,"height":303,"resolve":{"axis":{"x":"independent","y":"independent"}},"layer":[
{"data":{"name":"ts1"},"mark":{"type":"line","color":"#000","strokeWidth":1.2},
"encoding":{
"x":{"field":"t","type":"quantitative","scale":{"domain":[0,555],"nice":false,"zero":false},"axis":{"orient":"bottom","title":"Time(s)","values":[0,100,200,300,400,500],"tickSize":-9,"labelPadding":12,"titleX":424,"titleY":21,"titleAlign":"right","titleBaseline":"middle","titleAngle":0}},
"y":{"field":"e","type":"quantitative","scale":{"domain":[0,3.21],"nice":false,"zero":false},"axis":{"orient":"left","title":"Energy(mJ)","values":[0,0.5,1,1.5,2,2.5,3],"tickSize":-12,"labelPadding":15,"titleX":-30,"titleY":0,"titleAlign":"right","titleBaseline":"middle","titleAngle":-90}}}},
{"data":{"name":"mk1"},"mark":{"type":"point","shape":"M-1,0L1,0M0,-1L0,1M-0.7,-0.7L0.7,0.7M-0.7,0.7L0.7,-0.7","size":50,"filled":false,"color":"#ff0000","stroke":"#ff0000","strokeWidth":1.2,"opacity":1},
"encoding":{"x":{"field":"t","type":"quantitative","axis":{"orient":"bottom","title":null,"labels":false,"domain":false,"values":[0,20,40,60,80,100,120,140,160,180,200,220,240,260,280,300,320,340,360,380,400,420,440,460,480,500,520,540],"tickSize":-4.5}},"y":{"field":"e","type":"quantitative","axis":{"orient":"left","title":null,"labels":false,"domain":false,"values":[0,0.1,0.2,0.3,0.4,0.5,0.6,0.7,0.8,0.9,1,1.1,1.2,1.3,1.4,1.5,1.6,1.7,1.8,1.9,2,2.1,2.2,2.3,2.4,2.5,2.6,2.7,2.8,2.9,3,3.1,3.2],"tickSize":-6}}}},
{"data":{"values":[{}]},"mark":{"type":"text","align":"left","baseline":"middle","fontWeight":"bold","fontSize":13.7,"color":"#000"},
"encoding":{"x":{"datum":100,"type":"quantitative","axis":null},"y":{"datum":1.5,"type":"quantitative","axis":null},"text":{"value":"27/05/2019 at 13:32:09 for L149@540V"}}}
]},
{"width":424,"height":303,"resolve":{"axis":{"x":"independent","y":"independent"}},"layer":[
{"data":{"name":"ts2"},"mark":{"type":"line","color":"#000","strokeWidth":1.1},
"encoding":{
"x":{"field":"t","type":"quantitative","scale":{"domain":[0,568],"nice":false,"zero":false},"axis":{"orient":"bottom","title":"Time(s)","values":[0,100,200,300,400,500],"tickSize":-9,"labelPadding":12,"titleX":424,"titleY":21,"titleAlign":"right","titleBaseline":"middle","titleAngle":0}},
"y":{"field":"e","type":"quantitative","scale":{"domain":[1.5,2.2],"nice":false,"zero":false},"axis":{"orient":"left","title":"Energy(mJ)","values":[1.5,1.6,1.7,1.8,1.9,2,2.1,2.2],"tickSize":-12,"labelPadding":15,"titleX":-30,"titleY":0,"titleAlign":"right","titleBaseline":"middle","titleAngle":-90}}}},
{"data":{"name":"mk2"},"mark":{"type":"point","shape":"M-1,0L1,0M0,-1L0,1M-0.7,-0.7L0.7,0.7M-0.7,0.7L0.7,-0.7","size":50,"filled":false,"color":"#ff0000","stroke":"#ff0000","strokeWidth":1.2,"opacity":1},
"encoding":{"x":{"field":"t","type":"quantitative","axis":{"orient":"bottom","title":null,"labels":false,"domain":false,"values":[0,20,40,60,80,100,120,140,160,180,200,220,240,260,280,300,320,340,360,380,400,420,440,460,480,500,520,540,560],"tickSize":-4.5}},"y":{"field":"e","type":"quantitative","axis":{"orient":"left","title":null,"labels":false,"domain":false,"values":[1.5,1.52,1.54,1.56,1.58,1.6,1.62,1.64,1.66,1.68,1.7,1.72,1.74,1.76,1.78,1.8,1.82,1.84,1.86,1.88,1.9,1.92,1.94,1.96,1.98,2,2.02,2.04,2.06,2.08,2.1,2.12,2.14,2.16,2.18,2.2],"tickSize":-6}}}},
{"data":{"values":[{}]},"mark":{"type":"text","align":"left","baseline":"middle","fontWeight":"bold","fontSize":13.7,"color":"#000"},
"encoding":{"x":{"datum":98,"type":"quantitative","axis":null},"y":{"datum":2.135,"type":"quantitative","axis":null},"text":{"value":"27/05/2019 at 14:02:30 for L149@535V"}}}
]},
{"width":424,"height":303,"resolve":{"axis":{"x":"independent","y":"independent"}},"layer":[
{"data":{"name":"h1"},"mark":{"type":"line","interpolate":"step-after","color":"#30308c","strokeWidth":1},
"encoding":{
"x":{"field":"x","type":"quantitative","scale":{"domain":[1.6,2.2],"nice":false,"zero":false},"axis":{"orient":"bottom","title":null,"values":[1.6,1.7,1.8,1.9,2,2.1,2.2],"tickSize":-9,"labelPadding":12}},
"y":{"field":"y","type":"quantitative","scale":{"domain":[0,156],"nice":false,"zero":false},"axis":{"orient":"left","title":null,"values":[0,20,40,60,80,100,120,140],"tickSize":-12,"labelPadding":15}}}},
{"data":{"name":"g1"},"mark":{"type":"line","interpolate":"monotone","color":"#ff0000","strokeWidth":2},
"encoding":{"x":{"field":"x","type":"quantitative","axis":{"orient":"bottom","title":null,"labels":false,"domain":false,"values":[1.6,1.62,1.64,1.66,1.68,1.7,1.72,1.74,1.76,1.78,1.8,1.82,1.84,1.86,1.88,1.9,1.92,1.94,1.96,1.98,2,2.02,2.04,2.06,2.08,2.1,2.12,2.14,2.16,2.18,2.2],"tickSize":-4.5}},"y":{"field":"y","type":"quantitative","axis":{"orient":"left","title":null,"labels":false,"domain":false,"values":[0,5,10,15,20,25,30,35,40,45,50,55,60,65,70,75,80,85,90,95,100,105,110,115,120,125,130,135,140,145,150,155],"tickSize":-6}}}},
{"data":{"values":[{}]},"mark":{"type":"rect","fill":"#fff","stroke":"#000","strokeWidth":1},
"encoding":{"x":{"datum":2.0255,"type":"quantitative","axis":null},"x2":{"datum":2.2598},"y":{"datum":162.8,"type":"quantitative","axis":null},"y2":{"datum":103.0}}},
{"data":{"values":[{}]},"mark":{"type":"rule","color":"#000","strokeWidth":1},
"encoding":{"x":{"datum":2.0255,"type":"quantitative","axis":null},"x2":{"datum":2.2598},"y":{"datum":156,"type":"quantitative","axis":null}}},
{"data":{"values":[{}]},"mark":{"type":"text","align":"center","baseline":"middle","fontSize":11.5,"color":"#000"},
"encoding":{"x":{"datum":2.1427,"type":"quantitative","axis":null},"y":{"datum":159.4,"type":"quantitative","axis":null},"text":{"value":"E_149"}}},
{"data":{"values":[{}]},"mark":{"type":"text","align":"left","baseline":"middle","fontSize":10.5,"lineHeight":14.4,"color":"#000"},
"encoding":{"x":{"datum":2.0363,"type":"quantitative","axis":null},"y":{"datum":151.5,"type":"quantitative","axis":null},"text":{"value":["Entries","Mean","RMS","χ² / ndf","Constant","Mean","Sigma"]}}},
{"data":{"values":[{}]},"mark":{"type":"text","align":"right","baseline":"middle","fontSize":10.5,"lineHeight":14.4,"color":"#000"},
"encoding":{"x":{"datum":2.2471,"type":"quantitative","axis":null},"y":{"datum":151.5,"type":"quantitative","axis":null},"text":{"value":["1034","1.875","0.07425","68.55 / 16","130.6 ± 5.7","1.88 ± 0.00","0.07096 ± 0.00217"]}}}
]},
{"width":424,"height":303,"resolve":{"axis":{"x":"independent","y":"independent"}},"layer":[
{"data":{"name":"ts4"},"mark":{"type":"line","color":"#000","strokeWidth":1.1},
"encoding":{
"x":{"field":"t","type":"quantitative","scale":{"domain":[0,3760],"nice":false,"zero":false},"axis":{"orient":"bottom","title":"Time(s)","values":[0,500,1000,1500,2000,2500,3000,3500],"tickSize":-9,"labelPadding":12,"titleX":424,"titleY":20,"titleAlign":"right","titleBaseline":"middle","titleAngle":0}},
"y":{"field":"e","type":"quantitative","scale":{"domain":[1.5,2.2],"nice":false,"zero":false},"axis":{"orient":"left","title":"Energy(mJ)","values":[1.5,1.6,1.7,1.8,1.9,2,2.1,2.2],"tickSize":-12,"labelPadding":15,"titleX":-30,"titleY":0,"titleAlign":"right","titleBaseline":"middle","titleAngle":-90}}}},
{"data":{"name":"mk4"},"mark":{"type":"point","shape":"M-1,0L1,0M0,-1L0,1M-0.7,-0.7L0.7,0.7M-0.7,0.7L0.7,-0.7","size":50,"filled":false,"color":"#ff0000","stroke":"#ff0000","strokeWidth":1.2,"opacity":1},
"encoding":{"x":{"field":"t","type":"quantitative","axis":{"orient":"bottom","title":null,"labels":false,"domain":false,"values":[0,100,200,300,400,500,600,700,800,900,1000,1100,1200,1300,1400,1500,1600,1700,1800,1900,2000,2100,2200,2300,2400,2500,2600,2700,2800,2900,3000,3100,3200,3300,3400,3500,3600,3700],"tickSize":-4.5}},"y":{"field":"e","type":"quantitative","axis":{"orient":"left","title":null,"labels":false,"domain":false,"values":[1.5,1.52,1.54,1.56,1.58,1.6,1.62,1.64,1.66,1.68,1.7,1.72,1.74,1.76,1.78,1.8,1.82,1.84,1.86,1.88,1.9,1.92,1.94,1.96,1.98,2,2.02,2.04,2.06,2.08,2.1,2.12,2.14,2.16,2.18,2.2],"tickSize":-6}}}},
{"data":{"values":[{}]},"mark":{"type":"text","align":"left","baseline":"middle","fontWeight":"bold","fontSize":13.7,"color":"#000"},
"encoding":{"x":{"datum":393,"type":"quantitative","axis":null},"y":{"datum":2.165,"type":"quantitative","axis":null},"text":{"value":"27/05/2019 at 21:52:09 for L149@525V"}}}
]},
{"width":424,"height":303,"resolve":{"axis":{"x":"independent","y":"independent"}},"layer":[
{"data":{"name":"ts5"},"mark":{"type":"line","color":"#000","strokeWidth":1.1},
"encoding":{
"x":{"field":"t","type":"quantitative","scale":{"domain":[0,1227],"nice":false,"zero":false},"axis":{"orient":"bottom","title":"Time(s)","values":[0,200,400,600,800,1000,1200],"tickSize":-9,"labelPadding":12,"titleX":424,"titleY":20,"titleAlign":"right","titleBaseline":"middle","titleAngle":0}},
"y":{"field":"e","type":"quantitative","scale":{"domain":[1.5,2.2],"nice":false,"zero":false},"axis":{"orient":"left","title":"Energy(mJ)","values":[1.5,1.6,1.7,1.8,1.9,2,2.1,2.2],"tickSize":-12,"labelPadding":15,"titleX":-31,"titleY":0,"titleAlign":"right","titleBaseline":"middle","titleAngle":-90}}}},
{"data":{"name":"mk5"},"mark":{"type":"point","shape":"M-1,0L1,0M0,-1L0,1M-0.7,-0.7L0.7,0.7M-0.7,0.7L0.7,-0.7","size":50,"filled":false,"color":"#ff0000","stroke":"#ff0000","strokeWidth":1.2,"opacity":1},
"encoding":{"x":{"field":"t","type":"quantitative","axis":{"orient":"bottom","title":null,"labels":false,"domain":false,"values":[0,50,100,150,200,250,300,350,400,450,500,550,600,650,700,750,800,850,900,950,1000,1050,1100,1150,1200],"tickSize":-4.5}},"y":{"field":"e","type":"quantitative","axis":{"orient":"left","title":null,"labels":false,"domain":false,"values":[1.5,1.52,1.54,1.56,1.58,1.6,1.62,1.64,1.66,1.68,1.7,1.72,1.74,1.76,1.78,1.8,1.82,1.84,1.86,1.88,1.9,1.92,1.94,1.96,1.98,2,2.02,2.04,2.06,2.08,2.1,2.12,2.14,2.16,2.18,2.2],"tickSize":-6}}}},
{"data":{"values":[{}]},"mark":{"type":"text","align":"left","baseline":"middle","fontWeight":"bold","fontSize":13.7,"color":"#000"},
"encoding":{"x":{"datum":29,"type":"quantitative","axis":null},"y":{"datum":2.17,"type":"quantitative","axis":null},"text":{"value":"27/05/2019 at 13:01:59 for L249@540V"}}}
]},
{"width":424,"height":303,"resolve":{"axis":{"x":"independent","y":"independent"}},"layer":[
{"data":{"name":"h2"},"mark":{"type":"line","interpolate":"step-after","color":"#30308c","strokeWidth":1},
"encoding":{
"x":{"field":"x","type":"quantitative","scale":{"domain":[1.65,2.15],"nice":false,"zero":false},"axis":{"orient":"bottom","title":"Energy(mJ)","values":[1.65,1.7,1.75,1.8,1.85,1.9,1.95,2,2.05,2.1,2.15],"tickSize":-9,"labelPadding":12,"titleX":424,"titleY":20,"titleAlign":"right","titleBaseline":"middle","titleAngle":0}},
"y":{"field":"y","type":"quantitative","scale":{"domain":[0,297],"nice":false,"zero":false},"axis":{"orient":"left","title":null,"values":[0,50,100,150,200,250],"tickSize":-12,"labelPadding":15}}}},
{"data":{"name":"g2"},"mark":{"type":"line","interpolate":"monotone","color":"#ff0000","strokeWidth":2},
"encoding":{"x":{"field":"x","type":"quantitative","axis":{"orient":"bottom","title":null,"labels":false,"domain":false,"values":[1.65,1.66,1.67,1.68,1.69,1.7,1.71,1.72,1.73,1.74,1.75,1.76,1.77,1.78,1.79,1.8,1.81,1.82,1.83,1.84,1.85,1.86,1.87,1.88,1.89,1.9,1.91,1.92,1.93,1.94,1.95,1.96,1.97,1.98,1.99,2,2.01,2.02,2.03,2.04,2.05,2.06,2.07,2.08,2.09,2.1,2.11,2.12,2.13,2.14,2.15],"tickSize":-4.5}},"y":{"field":"y","type":"quantitative","axis":{"orient":"left","title":null,"labels":false,"domain":false,"values":[0,10,20,30,40,50,60,70,80,90,100,110,120,130,140,150,160,170,180,190,200,210,220,230,240,250,260,270,280,290],"tickSize":-6}}}},
{"data":{"values":[{}]},"mark":{"type":"rect","fill":"#fff","stroke":"#000","strokeWidth":1},
"encoding":{"x":{"datum":1.9692,"type":"quantitative","axis":null},"x2":{"datum":2.176},"y":{"datum":312.0,"type":"quantitative","axis":null},"y2":{"datum":169.3}}},
{"data":{"values":[{}]},"mark":{"type":"rule","color":"#000","strokeWidth":1},
"encoding":{"x":{"datum":1.9692,"type":"quantitative","axis":null},"x2":{"datum":2.176},"y":{"datum":294.6,"type":"quantitative","axis":null}}},
{"data":{"values":[{}]},"mark":{"type":"text","align":"center","baseline":"middle","fontSize":13,"color":"#000"},
"encoding":{"x":{"datum":2.0735,"type":"quantitative","axis":null},"y":{"datum":303.3,"type":"quantitative","axis":null},"text":{"value":"E"}}},
{"data":{"values":[{}]},"mark":{"type":"text","align":"left","baseline":"middle","fontSize":12,"lineHeight":18.2,"color":"#000"},
"encoding":{"x":{"datum":1.979,"type":"quantitative","axis":null},"y":{"datum":286.2,"type":"quantitative","axis":null},"text":{"value":["Entries","Mean","RMS","χ² / ndf","Constant","Mean","Sigma"]}}},
{"data":{"values":[{}]},"mark":{"type":"text","align":"right","baseline":"middle","fontSize":12,"lineHeight":18.2,"color":"#000"},
"encoding":{"x":{"datum":2.1689,"type":"quantitative","axis":null},"y":{"datum":286.2,"type":"quantitative","axis":null},"text":{"value":["2232","1.885","0.06844","32.68 / 21","259.3 ± 7.0","1.885 ± 0.001","0.06772 ± 0.00111"]}}}
]}
]
}
